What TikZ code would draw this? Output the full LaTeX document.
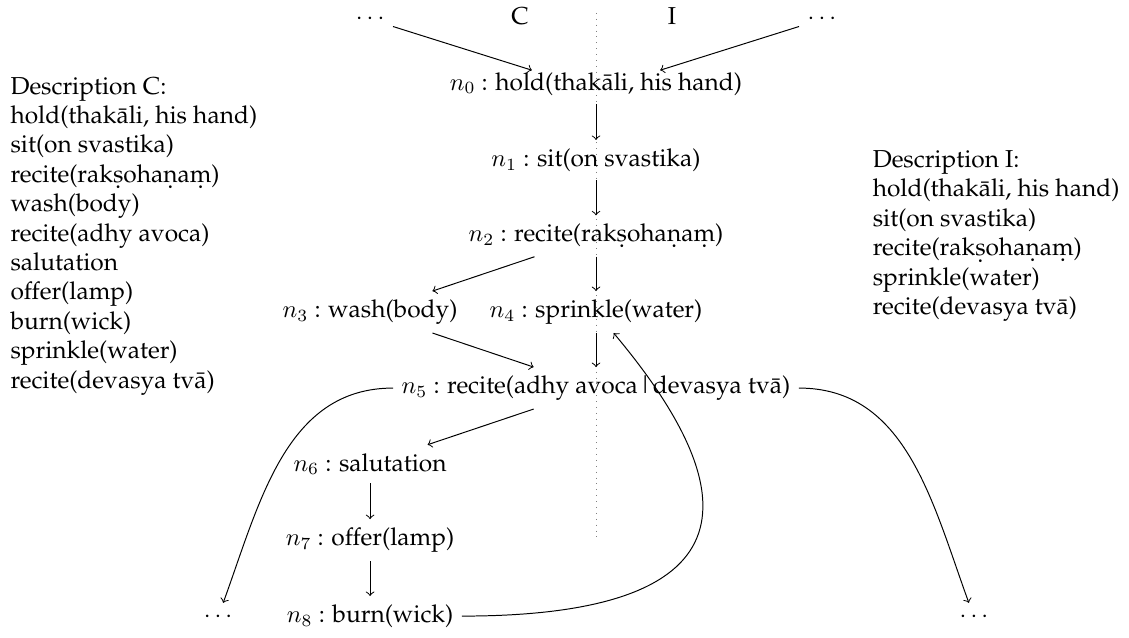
\documentclass[tikz,border=0pt]{standalone}
\usepackage[T1]{fontenc}
\usepackage{palatino}
\usetikzlibrary{calc}

\begin{document}
\begin{tikzpicture}[flow/.style={->}]
  % 列间距 \dx, 行间距 \dy; 原点取在 n0 处, 中线 x=0
  \def\dx{3.24}
  \def\dy{1.09}
  \useasboundingbox (-8.547,1.205) rectangle (7.643,-7.93);
  % 中线: 左边 C, 右边 I
  \draw[dotted, gray] (0,1.02) -- (0,-6.51);
  \node[anchor=base] (topL) at (-\dx,0.85) {$\cdots$};
  \node[anchor=base] (labC) at (-1.09,0.85) {C};
  \node[anchor=base] (labI) at (1.09,0.85) {I};
  \node[anchor=base] (topR) at (\dx,0.85) {$\cdots$};
  % 结点
  \node (n0) at (0,0) {$n_0$ : hold(thak\=ali, his hand)};
  \node (n1) at (0,-\dy) {$n_1$ : sit(on svastika)};
  \node (n2) at (0,-2*\dy) {$n_2$ : recite(rak\d{s}oha\d{n}a\d{m})};
  \node (n3) at (-\dx,-3*\dy) {$n_3$ : wash(body)};
  \node (n4) at (0,-3*\dy) {$n_4$ : sprinkle(water)};
  \node (n5) at (0,-4*\dy) {$n_5$ : recite(adhy avoca\textbar devasya tv\=a)};
  \node (n6) at (-\dx,-5*\dy) {$n_6$ : salutation};
  \node (n7) at (-\dx,-6*\dy) {$n_7$ : offer(lamp)};
  \node (n8) at (-\dx,-7*\dy) {$n_8$ : burn(wick)};
  \node[anchor=base] (botL) at (-5.42,0 |- n8.base) {$\cdots$};
  \node[anchor=base] (botR) at (5.42,0 |- n8.base) {$\cdots$};
  % 两段描述
  \node[anchor=west, align=left] (descC) at (-8.52,-2*\dy) {Description C:\\
    hold(thak\=ali, his hand)\\ sit(on svastika)\\
    recite(rak\d{s}oha\d{n}a\d{m})\\ wash(body)\\ recite(adhy avoca)\\
    salutation\\ offer(lamp)\\ burn(wick)\\ sprinkle(water)\\
    recite(devasya tv\=a)};
  \node[anchor=east, align=left] (descI) at (7.63,-2*\dy) {Description I:\\
    hold(thak\=ali, his hand)\\ sit(on svastika)\\
    recite(rak\d{s}oha\d{n}a\d{m})\\ sprinkle(water)\\
    recite(devasya tv\=a)};
  % 边
  \coordinate (inC) at ($(n0.north)+(-0.92,-0.09)$);
  \coordinate (inI) at ($(n0.north)+(0.92,-0.09)$);
  \draw[flow] (topL) -- (inC);
  \draw[flow] (topR) -- (inI);
  \draw[flow] (n0) -- (n1);
  \draw[flow] (n1) -- (n2);
  \draw[flow] (n2) -- (n3);
  \draw[flow] (n2) -- (n4);
  \draw[flow] (n3) -- (n5);
  \draw[flow] (n4) -- (n5);
  \draw[flow] (n5) -- (n6);
  \draw[flow] (n6) -- (n7);
  \draw[flow] (n7) -- (n8);
  \draw[flow] (n8) to[out=0, in=-50, looseness=2] (n4);
  \draw[flow] (n5) to[out=180, in=70] (botL);
  \draw[flow] (n5) to[out=0, in=110] (botR);
\end{tikzpicture}
\end{document}
